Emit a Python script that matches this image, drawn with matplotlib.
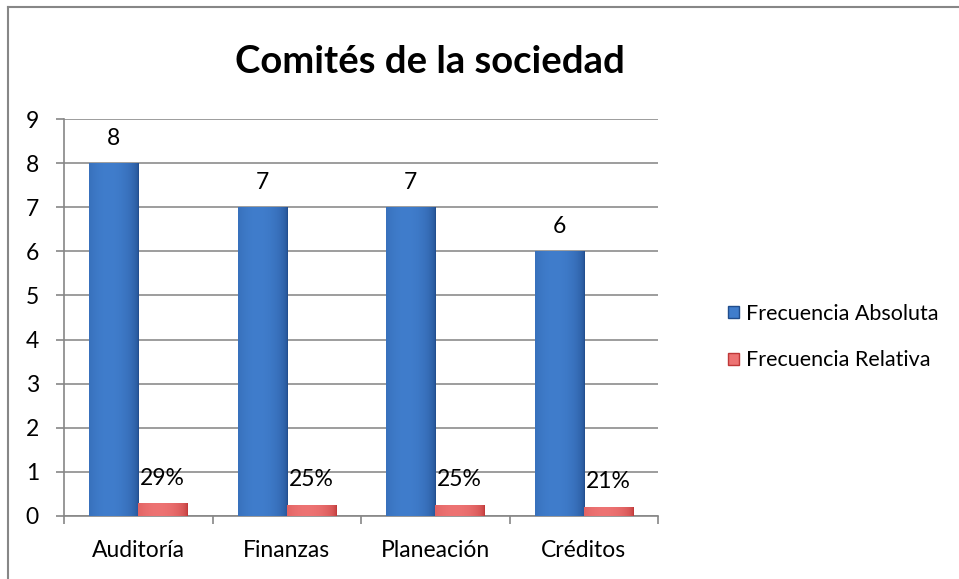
import numpy as np
import matplotlib
matplotlib.use("Agg")
import matplotlib.pyplot as plt
from matplotlib.patches import Rectangle
from matplotlib.lines import Line2D

plt.rcParams['font.family'] = ['Lato', 'DejaVu Sans']

comites = ["Auditoría", "Finanzas", "Planeación", "Créditos"]
frec_absoluta = [8, 7, 7, 6]
frec_relativa = [0.29, 0.25, 0.25, 0.21]
y_ticks = list(range(0, 10))

blue_dark = np.array([0.13, 0.30, 0.55])
blue_light = np.array([0.25, 0.49, 0.80])
red_dark = np.array([0.75, 0.22, 0.22])
red_light = np.array([0.93, 0.45, 0.45])


def shade_bars(ax, bars, dark, light):
    # cylinder-like horizontal shading clipped to each bar
    xs = np.linspace(0, 1, 64)
    prof = np.clip(1 - ((xs - 0.4) / 0.6) ** 2, 0, 1) ** 0.5
    img = dark[None, :] + (light - dark)[None, :] * prof[:, None]
    img = img[None, :, :]
    for b in bars:
        x0, y0 = b.get_x(), b.get_y()
        w, h = b.get_width(), b.get_height()
        im = ax.imshow(img, extent=(x0, x0 + w, y0, y0 + h), aspect='auto',
                       interpolation='bilinear', zorder=3)
        im.set_clip_path(b)
        b.set_facecolor('none')


fig = plt.figure(figsize=(9.59, 5.79), dpi=100)
ax = fig.add_axes([64 / 959, 1 - 516 / 579, (658 - 64) / 959, (516 - 119) / 579])

x = np.arange(len(comites))
w = 0.33
b1 = ax.bar(x - w / 2, frec_absoluta, w, color=blue_light, zorder=3, linewidth=0)
b2 = ax.bar(x + w / 2, frec_relativa, w, color=red_light, zorder=3, linewidth=0)
shade_bars(ax, b1, blue_dark, blue_light)
shade_bars(ax, b2, red_dark, red_light)

for xi, v in zip(x, frec_absoluta):
    ax.annotate(f"{v}", (xi - w / 2, v), xytext=(0, 18), textcoords='offset points',
                ha='center', va='center', fontsize=16.5)
for xi, v in zip(x, frec_relativa):
    ax.annotate(f"{v:.0%}", (xi + w / 2, v), xytext=(0, 18), textcoords='offset points',
                ha='center', va='center', fontsize=16.5)

ax.set_xlim(-0.5, len(comites) - 0.5)
ax.set_ylim(0, 9)
ax.set_yticks(y_ticks)
ax.yaxis.grid(True, color='#8c8c8c', linewidth=1.2, zorder=0)
ax.set_axisbelow(True)

ax.set_xticks(np.arange(len(comites) + 1) - 0.5)
ax.set_xticklabels([])
ax.set_xticks(x, minor=True)
ax.set_xticklabels(comites, minor=True, fontsize=16.5)
ax.tick_params(axis='x', which='major', length=6, color='#868686', width=1.2)
ax.tick_params(axis='x', which='minor', length=0, pad=17)
ax.tick_params(axis='y', length=6, color='#868686', width=1.2, pad=12, labelsize=16.5)

for s in ['top', 'right']:
    ax.spines[s].set_visible(False)
for s in ['left', 'bottom']:
    ax.spines[s].set_color('#868686')
    ax.spines[s].set_linewidth(1.2)

fig.text(430 / 959, 1 - 73 / 579, "Comités de la sociedad", ha='center', va='baseline',
         fontsize=27.5, fontweight='bold')

handles = [Rectangle((0, 0), 1, 1, facecolor=blue_light, edgecolor=blue_dark, linewidth=1),
           Rectangle((0, 0), 1, 1, facecolor=red_light, edgecolor=red_dark, linewidth=1)]
fig.legend(handles, ["Frecuencia Absoluta", "Frecuencia Relativa"],
           loc='center left', bbox_to_anchor=(709 / 959, 1 - 337 / 579),
           frameon=False, fontsize=15.5, handlelength=0.5, handleheight=0.5,
           handletextpad=0.3, labelspacing=1.25)

# chart frame
fig.add_artist(Line2D([8 / 959, 8 / 959], [0, 1 - 7 / 579], color='#878787', linewidth=1.5))
fig.add_artist(Line2D([8 / 959, 1], [1 - 7 / 579, 1 - 7 / 579], color='#878787', linewidth=1.5))

fig.savefig("out.png", dpi=100)
